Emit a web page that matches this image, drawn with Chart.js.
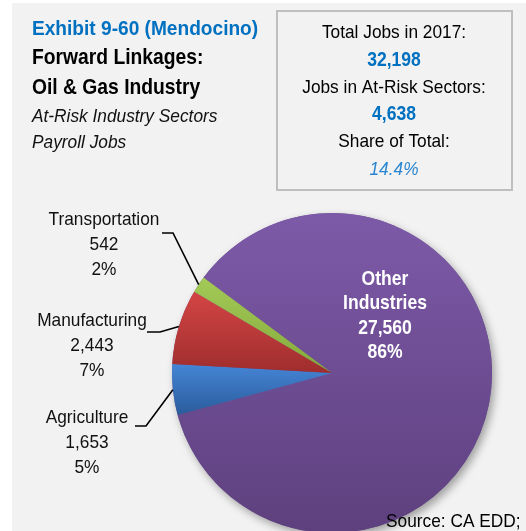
<!DOCTYPE html>
<html>
<head>
<meta charset="utf-8">
<script src="https://cdn.jsdelivr.net/npm/chart.js@4"></script>
<style>
    html, body { margin: 0; padding: 0; background: #fff; }
    #wrap { position: relative; width: 526px; height: 531px; overflow: hidden; }
    canvas { position: absolute; left: 0; top: 0; }
</style>
</head>
<body>
<div id="wrap"><canvas id="pie-chart" width="526" height="560"></canvas></div>
<script>
// chart values
const sectors   = ['Other Industries', 'Agriculture', 'Manufacturing', 'Transportation']
const jobs      = [27560, 1653, 2443, 542]
const shares    = ['86%', '5%', '7%', '2%']
const topColors = ['#7d5aa8', '#4585d6', '#d44545', '#a3c957']
const botColors = ['#5e407e', '#2a5c9b', '#9f2d2d', '#85aa3b']

const titleLines = ['Exhibit 9-60 (Mendocino)', 'Forward Linkages:', 'Oil & Gas Industry', 'At-Risk Industry Sectors', 'Payroll Jobs']
const boxLines   = ['Total Jobs in 2017:', '32,198', 'Jobs in At-Risk Sectors:', '4,638', 'Share of Total:', '14.4%']
const sourceText = 'Source: CA EDD;'

const rotationDeg = 306.6
const BLUE = '#0070c0'
const FONT = '"Liberation Sans", Arial, sans-serif'
const SX = 0.91 // the original face is a narrow Arial

const fmt = n => n.toLocaleString('en-US')

// y-extent of a slice, for its own vertical gradient
const sliceYRange = (i, cy, r) => {
    const total = jobs.reduce((a, b) => a + b, 0)
    const before = jobs.slice(0, i).reduce((a, b) => a + b, 0)
    const start = -Math.PI / 2 + rotationDeg * Math.PI / 180 + before / total * Math.PI * 2
    const end = start + jobs[i] / total * Math.PI * 2
    const ys = [cy, cy + r * Math.sin(start), cy + r * Math.sin(end)]
    for (let k = -4; k <= 6; k++) {
        const a = -Math.PI / 2 + k * Math.PI
        if (a > start && a < end) ys.push(cy + r * Math.sin(a))
    }
    return [Math.min(...ys), Math.max(...ys)]
}

const sliceFill = ctx => {
    const i = ctx.dataIndex
    const area = ctx.chart.chartArea
    if (!area) return topColors[i]
    const cy = (area.top + area.bottom) / 2
    const r = Math.min(area.right - area.left, area.bottom - area.top) / 2
    const [y0, y1] = sliceYRange(i, cy, r)
    const g = ctx.chart.ctx.createLinearGradient(0, y0, 0, y1)
    g.addColorStop(0, topColors[i])
    g.addColorStop(1, botColors[i])
    return g
}

const text = (c, t, x, y, font, color) => {
    c.save()
    c.font = font
    c.fillStyle = color
    c.translate(x, y)
    c.scale(SX, 1)
    c.fillText(t, 0, 0)
    c.restore()
}

const backdrop = {
    id: 'backdrop',
    beforeDraw(chart) {
        const c = chart.ctx
        c.save()
        c.fillStyle = '#ffffff'
        c.fillRect(0, 0, chart.width, chart.height)
        c.fillStyle = '#f2f2f2'
        c.fillRect(12, 3, chart.width - 12, chart.height - 3)
        c.restore()
    },
    beforeDatasetsDraw(chart) {
        // soft shadow under the pie
        const arc = chart.getDatasetMeta(0).data[0]
        if (!arc) return
        const c = chart.ctx
        c.save()
        c.shadowColor = 'rgba(0,0,0,0.35)'
        c.shadowBlur = 9
        c.shadowOffsetX = 3
        c.shadowOffsetY = 4
        c.fillStyle = '#6a4b8f'
        c.beginPath()
        c.arc(arc.x, arc.y, arc.outerRadius, 0, Math.PI * 2)
        c.fill()
        c.restore()
    }
}

const annotations = {
    id: 'annotations',
    afterDraw(chart) {
        const c = chart.ctx
        const arcs = chart.getDatasetMeta(0).data
        c.save()
        c.textBaseline = 'middle'

        // title block
        c.textAlign = 'left'
        const titleY = [29, 58, 88, 117, 143]
        titleLines.forEach((t, k) => {
            if (k === 0) text(c, t, 32, titleY[k], `bold 21px ${FONT}`, BLUE)
            else if (k < 3) text(c, t, 32, titleY[k], `bold 21.2px ${FONT}`, '#000')
            else text(c, t, 32, titleY[k], `italic 19px ${FONT}`, '#111')
        })

        // summary box
        c.strokeStyle = '#bfbfbf'
        c.lineWidth = 2
        c.strokeRect(277, 11, 235, 179)
        c.textAlign = 'center'
        const boxY = [33, 61, 88, 115, 142, 170]
        boxLines.forEach((t, k) => {
            if (k === 5) text(c, t, 394, boxY[k], `italic 19px ${FONT}`, '#2a86d0')
            else if (k % 2 === 1) text(c, t, 394, boxY[k], `bold 19.3px ${FONT}`, BLUE)
            else text(c, t, 394, boxY[k], `19px ${FONT}`, '#000')
        })

        // outside labels with leader lines
        const outside = {
            3: { x: 104, y: 220, line: [[162, 233], [173, 233]] },
            2: { x: 92,  y: 321, line: [[147, 332], [160, 332]] },
            1: { x: 87,  y: 418, line: [[135, 426], [146, 426]] }
        }
        c.strokeStyle = '#000'
        c.lineWidth = 1.6
        Object.entries(outside).forEach(([idx, o]) => {
            const arc = arcs[idx]
            const mid = (arc.startAngle + arc.endAngle) / 2
            const ex = arc.x + arc.outerRadius * Math.cos(mid)
            const ey = arc.y + arc.outerRadius * Math.sin(mid)
            c.beginPath()
            c.moveTo(o.line[0][0], o.line[0][1])
            c.lineTo(o.line[1][0], o.line[1][1])
            c.lineTo(ex, ey)
            c.stroke()
            const f = `19px ${FONT}`
            text(c, sectors[idx], o.x, o.y, f, '#111')
            text(c, fmt(jobs[idx]), o.x, o.y + 25, f, '#111')
            text(c, shares[idx], o.x, o.y + 50, f, '#111')
        })

        // inside label for the big slice
        const [w1, w2] = sectors[0].split(' ')
        const inY = [280, 304, 329, 353]
        ;[w1, w2, fmt(jobs[0]), shares[0]].forEach((t, k) => text(c, t, 385, inY[k], `bold 19.3px ${FONT}`, '#ffffff'))

        // source
        c.textAlign = 'left'
        text(c, sourceText, 386, 522, `19px ${FONT}`, '#000')
        c.restore()
    }
}

const renderPie = () => {
    const canvasEl = document.getElementById('pie-chart')
    new Chart(canvasEl.getContext('2d'), {
        type: 'pie',
        data: {
            labels: sectors,
            datasets: [{
                data: jobs,
                backgroundColor: sliceFill,
                borderWidth: 0
            }]
        },
        options: {
            responsive: false,
            animation: false,
            events: [],
            rotation: rotationDeg,
            layout: { padding: { left: 172, right: 34, top: 213, bottom: 27 } },
            plugins: {
                legend: { display: false },
                tooltip: { enabled: false }
            }
        },
        plugins: [backdrop, annotations]
    })
}

document.addEventListener('DOMContentLoaded', renderPie, false)
</script>
</body>
</html>
